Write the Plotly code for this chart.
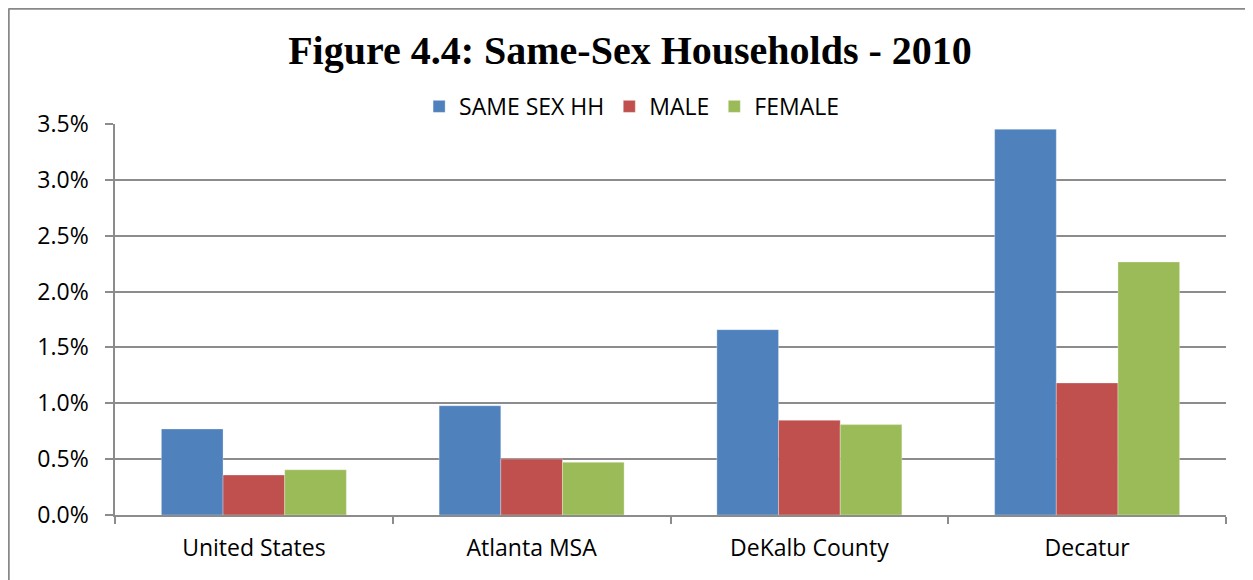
import plotly.graph_objects as go

categories = ["United States", "Atlanta MSA", "DeKalb County", "Decatur"]
same_sex_hh = [0.0077, 0.00978, 0.01659, 0.03453]
male = [0.00358, 0.00501, 0.00848, 0.01182]
female = [0.00405, 0.00472, 0.00809, 0.02265]
y_ticks = [0, 0.005, 0.01, 0.015, 0.02, 0.025, 0.03, 0.035]
y_tick_labels = ["0.0%", "0.5%", "1.0%", "1.5%", "2.0%", "2.5%", "3.0%", "3.5%"]

series = [
    ("SAME SEX HH", same_sex_hh, "#4F81BD"),
    ("MALE", male, "#C0504D"),
    ("FEMALE", female, "#9BBB59"),
]

fig = go.Figure()
for name, vals, color in series:
    fig.add_trace(go.Bar(
        x=categories, y=vals, name=name,
        marker=dict(color=color, line=dict(color="rgba(255,255,255,0.5)", width=0.6)),
    ))

W, H = 1245, 572
L, R, T, B = 107, 27, 116, 65
PW, PH = W - L - R, H - T - B

grid = "#8C8C8C"
font_fam = "'Open Sans', Lato, sans-serif"
fig.update_layout(
    width=W, height=H,
    margin=dict(l=L, r=R, t=T, b=B, autoexpand=False),
    paper_bgcolor="white", plot_bgcolor="white",
    barmode="group", bargap=0.334, bargroupgap=0,
    title=dict(text="<b>Figure 4.4: Same-Sex Households - 2010</b>",
               font=dict(family="'Liberation Serif', 'Times New Roman', serif", size=40, color="black"),
               x=0.4996, xanchor="center", y=1 - 42 / H, yanchor="middle"),
    legend=dict(orientation="h", x=0.465, xanchor="center", y=0.99, yanchor="bottom",
                font=dict(family=font_fam, size=23, color="black"),
                itemwidth=30, traceorder="normal", bgcolor="rgba(0,0,0,0)"),
    font=dict(family=font_fam, size=23, color="black"),
    showlegend=True,
)
fig.update_yaxes(range=[0, 0.035], tickvals=y_ticks, ticktext=y_tick_labels,
                 showgrid=True, gridcolor=grid, gridwidth=1.5,
                 showline=True, linecolor=grid, linewidth=1.5,
                 ticks="outside", ticklen=8, tickcolor=grid, tickwidth=1.5,
                 ticklabelstandoff=12,
                 zeroline=False, tickfont=dict(size=23, family=font_fam, color="black"))
fig.update_xaxes(showline=True, linecolor=grid, linewidth=1.5,
                 ticks="outside", tickson="boundaries", ticklen=7, tickcolor=grid, tickwidth=1.5,
                 ticklabelstandoff=12,
                 showgrid=False, tickfont=dict(size=23, family=font_fam, color="black"))

# chart border (top and left edges visible)
fig.add_shape(type="line", xref="paper", yref="paper",
              x0=(0.5 - L) / PW, x1=(W + 5 - L) / PW, y0=1 + (T - 0.5) / PH, y1=1 + (T - 0.5) / PH,
              line=dict(color="#888888", width=2.5))
fig.add_shape(type="line", xref="paper", yref="paper",
              x0=(0.5 - L) / PW, x1=(0.5 - L) / PW, y0=1 + (T - 0.5) / PH, y1=-(B + 5) / PH,
              line=dict(color="#888888", width=2.5))

fig.write_html("out.html")
